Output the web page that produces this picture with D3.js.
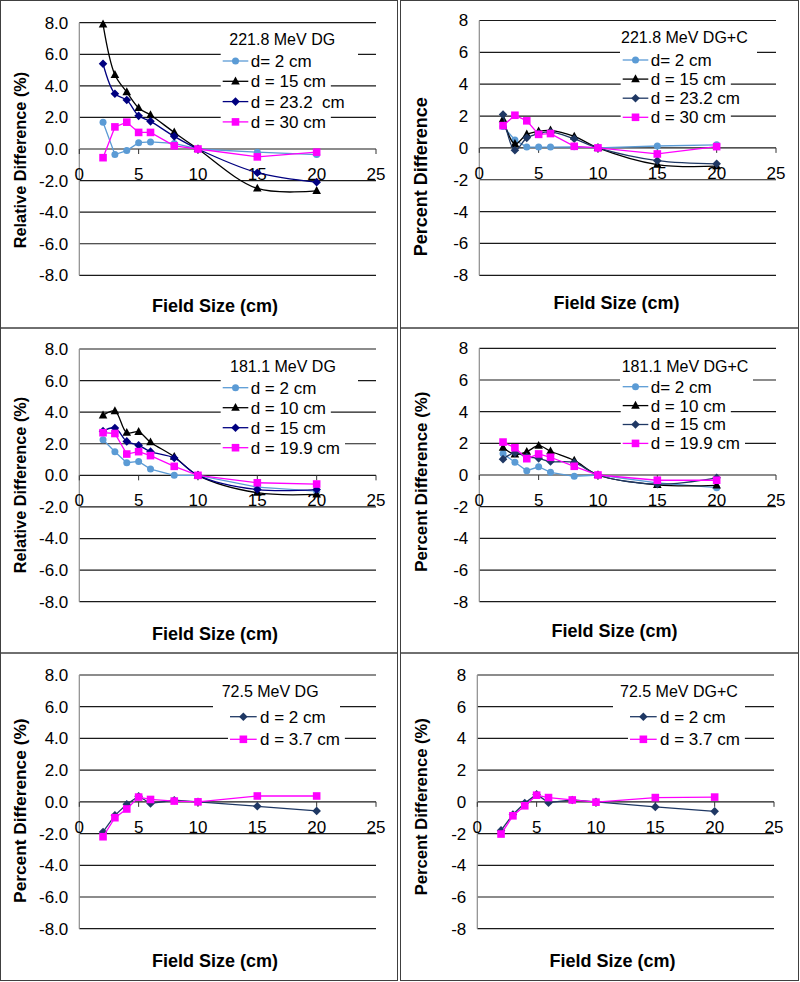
<!DOCTYPE html>
<html><head><meta charset="utf-8">
<script src="https://cdn.jsdelivr.net/npm/d3@7/dist/d3.min.js"></script>
<style>
body{margin:0;background:#fff}
text{font-family:"Liberation Sans",Arial,Helvetica,sans-serif;fill:#000}
</style>
</head><body>
<svg id="chart" width="800" height="982"></svg>
<script>
// ---------- DATA ----------
const fieldSizes = [2, 3, 4, 5, 6, 8, 10, 15, 20];
const xTicks = [0, 5, 10, 15, 20, 25];
const yTicks = [-8, -6, -4, -2, 0, 2, 4, 6, 8];

// 221.8 MeV DG
const p1Title = "221.8 MeV DG";
const p1Labels = ["d= 2 cm", "d = 15 cm", "d = 23.2  cm", "d = 30 cm"];
const p1_d2   = [1.7, -0.35, -0.1, 0.4, 0.45, 0.35, 0, -0.2, -0.35];
const p1_d15  = [7.9, 4.7, 3.6, 2.6, 2.15, 1.05, 0, -2.5, -2.65];
const p1_d232 = [5.4, 3.5, 3.1, 2.1, 1.75, 0.8, 0, -1.5, -2.1];
const p1_d30  = [-0.55, 1.4, 1.7, 1.05, 1.05, 0.2, 0, -0.5, -0.2];

// 221.8 MeV DG+C
const p2Title = "221.8 MeV DG+C";
const p2Labels = ["d= 2 cm", "d = 15 cm", "d = 23.2 cm", "d = 30 cm"];
const p2_d2   = [1.35, 0.5, 0.05, 0.05, 0.05, 0.07, 0, 0.12, 0.19];
const p2_d15  = [1.8, 0.25, 0.85, 1.05, 1.1, 0.72, 0, -1.05, -1.15];
const p2_d232 = [2.1, -0.15, 0.63, 0.9, 1.0, 0.57, 0, -0.8, -1.0];
const p2_d30  = [1.4, 2.05, 1.7, 0.85, 0.9, 0.1, 0, -0.38, 0.08];

// 181.1 MeV DG
const p3Title = "181.1 MeV DG";
const p3Labels = ["d = 2 cm", "d = 10 cm", "d = 15 cm", "d = 19.9 cm"];
const p3_d2   = [2.25, 1.5, 0.8, 0.88, 0.4, 0, 0, -0.75, -1.0];
const p3_d10  = [3.8, 4.07, 2.7, 2.75, 2.1, 1.18, 0, -1.1, -1.2];
const p3_d15  = [2.8, 3.0, 2.15, 1.9, 1.5, 1.1, 0, -0.9, -0.9];
const p3_d199 = [2.7, 2.65, 1.35, 1.5, 1.25, 0.57, 0, -0.47, -0.55];

// 181.1 MeV DG+C
const p4Title = "181.1 MeV DG+C";
const p4Labels = ["d= 2 cm", "d = 10 cm", "d = 15 cm", "d = 19.9 cm"];
const p4_d2   = [1.35, 0.8, 0.27, 0.52, 0.17, -0.08, 0, -0.5, -0.8];
const p4_d10  = [1.73, 1.3, 1.47, 1.85, 1.5, 0.92, 0, -0.62, -0.65];
const p4_d15  = [1.0, 1.4, 1.15, 1.05, 0.85, 0.78, 0, -0.58, -0.18];
const p4_d199 = [2.08, 1.72, 1.03, 1.33, 1.12, 0.55, 0, -0.33, -0.33];

// 72.5 MeV DG
const p5Title = "72.5 MeV DG";
const p5Labels = ["d = 2 cm", "d = 3.7 cm"];
const p5_d2   = [-1.9, -0.85, -0.15, 0.35, -0.1, 0.1, 0, -0.28, -0.57];
const p5_d37  = [-2.2, -1.0, -0.45, 0.3, 0.15, 0.05, 0, 0.37, 0.37];

// 72.5 MeV DG+C
const p6Title = "72.5 MeV DG+C";
const p6Labels = ["d = 2 cm", "d = 3.7 cm"];
const p6_d2   = [-1.8, -0.8, -0.08, 0.47, -0.05, 0.12, 0, -0.32, -0.6];
const p6_d37  = [-2.03, -0.88, -0.25, 0.42, 0.27, 0.12, -0.02, 0.27, 0.3];

const xTitle = "Field Size (cm)";

// ---------- STYLES / LAYOUT ----------
const LB = "#5b9bd5", BK = "#000000", NV = "#000080", SL = "#1f3864", MG = "#ff00ff";
const sCircle = {m:"circle", c:LB}, sTri = {m:"triangle", c:BK},
      sNavy = {m:"diamond", c:NV}, sSlate = {m:"diamond", c:SL}, sSq = {m:"square", c:MG};

const panels = [
  {box:[0.5,0.5,397.5,328], plot:{l:79.3,r:376,t:22.7,b:275.3}, fmt:".1f",
   yTitle:"Relative Difference (%)", yts:16.3, ytx:20, yty:160, xtx:215, xty:311.7,
   title:p1Title, labels:p1Labels,
   series:[[p1_d2,sCircle,0],[p1_d15,sTri,1],[p1_d232,sNavy,1],[p1_d30,sSq,0]],
   lg:{tx:229.3, ty:45, tb:[224,358,29,56], l0:222.7, l1:248.3, txt:250.7, y0:61, dy:20.3}},
  {box:[400.5,0.5,798.5,328], plot:{l:479.3,r:776,t:20.5,b:275.3}, fmt:".0f",
   yTitle:"Percent Difference", yts:18, ytx:420.7, yty:176.7, xtx:616.5, xty:308.5,
   title:p2Title, labels:p2Labels,
   series:[[p2_d2,sCircle,0],[p2_d15,sTri,1],[p2_d232,sSlate,1],[p2_d30,sSq,0]],
   lg:{tx:621, ty:43.3, tb:[620,757,27,55], l0:622.7, l1:648.3, txt:650.7, y0:60, dy:19.1}},
  {box:[0.5,328,397.5,653], plot:{l:79.3,r:376,t:349,b:601.7}, fmt:".1f",
   yTitle:"Relative Difference (%)", yts:16.3, ytx:20, yty:485, xtx:215, xty:640,
   title:p3Title, labels:p3Labels,
   series:[[p3_d2,sCircle,0],[p3_d10,sTri,1],[p3_d15,sNavy,1],[p3_d199,sSq,0]],
   lg:{tx:230, ty:371.7, tb:[224,358,355,383], l0:222.7, l1:248.3, txt:250.7, y0:387.7, dy:20}},
  {box:[400.5,328,798.5,653], plot:{l:479.3,r:776,t:348.3,b:601.7}, fmt:".0f",
   yTitle:"Percent Difference (%)", yts:16.9, ytx:420.7, yty:481.7, xtx:614.5, xty:636.7,
   title:p4Title, labels:p4Labels,
   series:[[p4_d2,sCircle,0],[p4_d10,sTri,1],[p4_d15,sSlate,1],[p4_d199,sSq,0]],
   lg:{tx:621.7, ty:371.7, tb:[620,753,355,383], l0:622.7, l1:648.3, txt:650.7, y0:386.7, dy:18.9}},
  {box:[0.5,653,397.5,980.5], plot:{l:79.3,r:376,t:675,b:928.7}, fmt:".1f",
   yTitle:"Percent Difference (%)", yts:17.3, ytx:20, yty:810.7, xtx:215, xty:966.7,
   title:p5Title, labels:p5Labels,
   series:[[p5_d2,sSlate,0],[p5_d37,sSq,0]],
   lg:{tx:221.7, ty:696.7, tb:[213,340,680,709], l0:230, l1:256.7, txt:260, y0:716.7, dy:22.6}},
  {box:[400.5,653,798.5,980.5], plot:{l:477.3,r:774,t:675,b:928.7}, fmt:".0f",
   yTitle:"Percent Difference (%)", yts:16.6, ytx:420.7, yty:806.7, xtx:612.5, xty:966.7,
   title:p6Title, labels:p6Labels,
   series:[[p6_d2,sSlate,0],[p6_d37,sSq,0]],
   lg:{tx:620, ty:696.7, tb:[613,745,680,709], l0:630, l1:656.7, txt:660, y0:716.7, dy:22.6}}
];

function markerPath(m){
  if (m === "circle") { const r = 3.5; return `M${r},0A${r},${r} 0 1,1 ${-r},0A${r},${r} 0 1,1 ${r},0Z`; }
  if (m === "triangle") return "M0,-4.8L4.3,3.1L-4.3,3.1Z";
  if (m === "diamond") return "M0,-4.3L4.3,0L0,4.3L-4.3,0Z";
  return "M-3.8,-3.8L3.8,-3.8L3.8,3.8L-3.8,3.8Z";
}

const svg = d3.select("#chart");

panels.forEach(p => {
  const g = svg.append("g");
  const x = d3.scaleLinear().domain([0, 25]).range([p.plot.l, p.plot.r]);
  const y = d3.scaleLinear().domain([-8, 8]).range([p.plot.b, p.plot.t]);

  // panel border
  g.append("rect").attr("x", p.box[0]).attr("y", p.box[1])
    .attr("width", p.box[2]-p.box[0]).attr("height", p.box[3]-p.box[1])
    .attr("fill", "none").attr("stroke", "#404040").attr("stroke-width", 1);

  // gridlines
  g.selectAll(".grid").data(yTicks).join("line")
    .attr("x1", p.plot.l).attr("x2", p.plot.r)
    .attr("y1", d => y(d)).attr("y2", d => y(d))
    .attr("stroke", "#1a1a1a").attr("stroke-width", 1.2);

  // y axis line
  g.append("line").attr("x1", p.plot.l).attr("x2", p.plot.l)
    .attr("y1", p.plot.t).attr("y2", p.plot.b)
    .attr("stroke", "#8c8c8c").attr("stroke-width", 1.2);

  // x axis ticks at y=0
  g.selectAll(".xt").data(xTicks).join("line")
    .attr("x1", d => x(d)).attr("x2", d => x(d))
    .attr("y1", y(0)).attr("y2", y(0) + 5)
    .attr("stroke", "#333").attr("stroke-width", 1);

  // y tick labels
  const fmt = d3.format(p.fmt);
  g.selectAll(".yl").data(yTicks).join("text")
    .attr("x", p.plot.l - 11).attr("y", d => y(d)).attr("dy", "0.35em")
    .attr("text-anchor", "end").style("font-size", "17px")
    .text(d => fmt(d).replace("\u2212", "-"));

  // x tick labels (below zero line)
  g.selectAll(".xl").data(xTicks).join("text")
    .attr("x", d => x(d)).attr("y", y(0) + 31)
    .attr("text-anchor", "middle").style("font-size", "17px")
    .text(d => d);

  // axis titles
  g.append("text").attr("x", p.xtx).attr("y", p.xty)
    .attr("text-anchor", "middle").style("font-size", "18px").style("font-weight", "bold")
    .text(xTitle);
  g.append("text").attr("transform", `translate(${p.ytx},${p.yty}) rotate(-90)`)
    .attr("dy", "0.35em").attr("text-anchor", "middle")
    .style("font-size", p.yts + "px").style("font-weight", "bold")
    .text(p.yTitle);

  // series
  p.series.forEach(([vals, st, smooth]) => {
    const pts = fieldSizes.map((fs, i) => [fs, vals[i]]);
    const line = d3.line().x(d => x(d[0])).y(d => y(d[1]))
      .curve(smooth ? d3.curveCatmullRom.alpha(0.5) : d3.curveLinear);
    g.append("path").attr("d", line(pts)).attr("fill", "none")
      .attr("stroke", st.c).attr("stroke-width", 1.3);
    g.selectAll(null).data(pts).join("path")
      .attr("transform", d => `translate(${x(d[0])},${y(d[1])})`)
      .attr("d", markerPath(st.m)).attr("fill", st.c);
  });

  // legend title with white box
  const L = p.lg;
  g.append("rect").attr("x", L.tb[0]).attr("y", L.tb[2])
    .attr("width", L.tb[1]-L.tb[0]).attr("height", L.tb[3]-L.tb[2]).attr("fill", "#fff");
  g.append("text").attr("x", L.tx).attr("y", L.ty).style("font-size", "16px").text(p.title);

  // legend entries
  p.series.forEach(([vals, st], i) => {
    const cy = L.y0 + i * L.dy;
    const bg = g.append("rect").attr("fill", "#fff");
    const t = g.append("text").attr("x", L.txt).attr("y", cy).attr("dy", "0.35em")
      .style("font-size", "17px").style("white-space", "pre").text(p.labels[i]);
    const tw = t.node().getComputedTextLength();
    bg.attr("x", L.l0 - 2).attr("y", cy - 9.5).attr("width", (L.txt + tw + 5) - (L.l0 - 2)).attr("height", 19);
    g.append("line").attr("x1", L.l0).attr("x2", L.l1).attr("y1", cy).attr("y2", cy)
      .attr("stroke", st.c).attr("stroke-width", 1.3);
    g.append("path").attr("transform", `translate(${(L.l0+L.l1)/2},${cy})`)
      .attr("d", markerPath(st.m)).attr("fill", st.c);
    t.raise();
  });
});
</script>
</body></html>
